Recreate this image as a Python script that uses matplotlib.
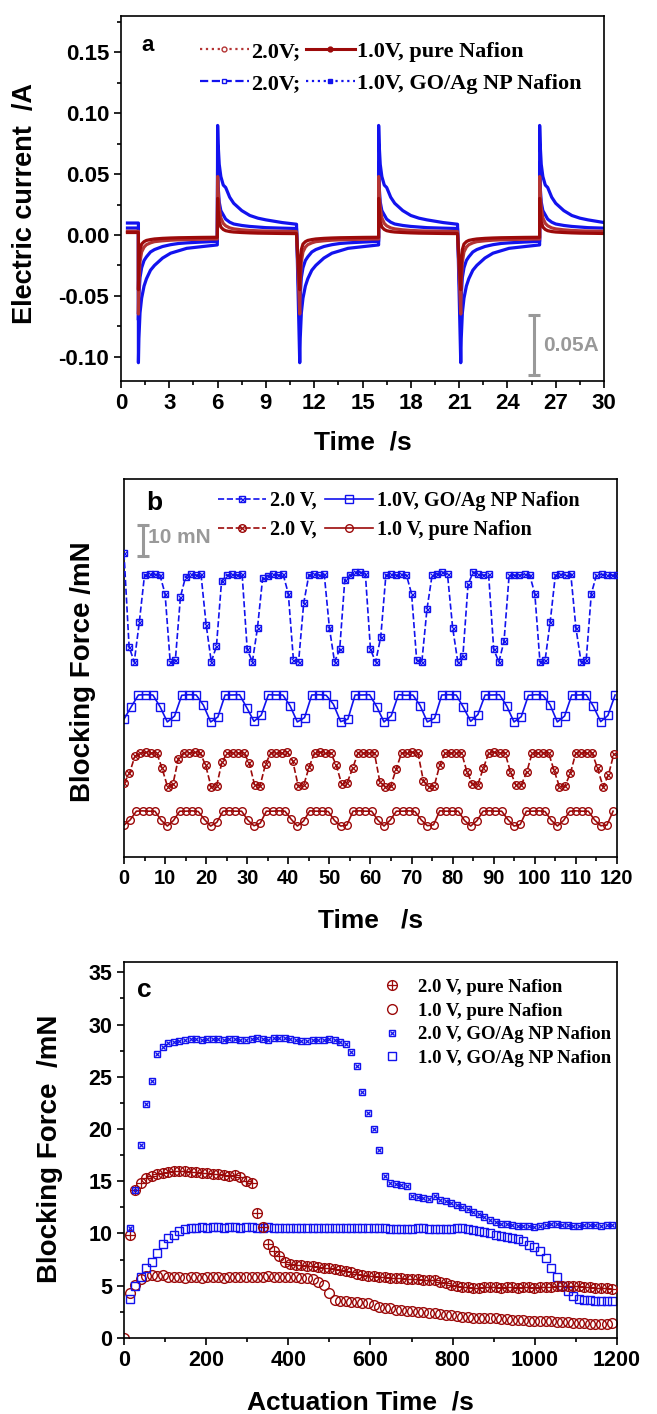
import numpy as np
import matplotlib
matplotlib.use("Agg")
import matplotlib.pyplot as plt
from matplotlib.lines import Line2D
from matplotlib.ticker import MultipleLocator, FormatStrFormatter

plt.rcParams["font.family"] = ["Liberation Sans", "DejaVu Sans"]
plt.rcParams["font.weight"] = "bold"
plt.rcParams["axes.labelweight"] = "bold"
plt.rcParams["axes.unicode_minus"] = False

RED = "#9C0A0A"
RED_LIGHT = "#B43434"
BLUE = "#1212EE"
GRAY = "#999999"
SERIF = "Liberation Serif"

# ---------------- panel a: current response (A) ----------------
# switching instants (s) and sampling offsets after each switch (s)
A_START = 0.4
A_SWITCH_NEG = [1.08, 11.1, 21.1]
A_SWITCH_POS = [6.0, 16.0, 26.0]
A_OFFSETS = [0, 0.03, 0.1, 0.2, 0.35, 0.5, 0.75, 1.0, 1.5, 2.0, 2.5, 3.0, 4.0, 4.9]

# current before the first switch
A_PRE = {"red2": 0.003, "red1": 0.002, "blue2": 0.0098, "blue1": 0.0057}
# decay after a negative step
A_NEG = {
    "blue2": [-0.105, -0.085, -0.064, -0.052, -0.042, -0.036, -0.029, -0.025,
              -0.019, -0.015, -0.013, -0.011, -0.0095, -0.0082],
    "blue1": [-0.070, -0.050, -0.035, -0.027, -0.021, -0.018, -0.014, -0.012,
              -0.0095, -0.008, -0.007, -0.0065, -0.0058, -0.0052],
    "red2": [-0.065, -0.040, -0.022, -0.014, -0.010, -0.008, -0.0065, -0.0055,
             -0.0048, -0.0043, -0.004, -0.0038, -0.0035, -0.0033],
    "red1": [-0.045, -0.025, -0.012, -0.0075, -0.0055, -0.0045, -0.0038, -0.0033,
             -0.0028, -0.0025, -0.0023, -0.0022, -0.002, -0.0019],
}
# decay after a positive step
A_POS = {
    "blue2": [0.090, 0.075, 0.058, 0.048, 0.041, 0.039, 0.031, 0.026,
              0.020, 0.016, 0.0138, 0.0124, 0.0102, 0.0088],
    "blue1": [0.060, 0.040, 0.027, 0.020, 0.0165, 0.013, 0.0105, 0.009,
              0.0078, 0.007, 0.0065, 0.006, 0.0056, 0.0053],
    "red2": [0.048, 0.035, 0.022, 0.014, 0.0095, 0.0075, 0.0058, 0.005,
             0.0042, 0.0037, 0.0034, 0.0032, 0.003, 0.0028],
    "red1": [0.030, 0.020, 0.011, 0.0065, 0.0045, 0.0035, 0.0028, 0.0024,
             0.002, 0.0017, 0.0015, 0.0014, 0.0012, 0.0011],
}

# ---------------- panel b: blocking force traces (mN, offset) ----------------
B_RED1_DT = 1.507
B_RED1 = [10.3, 12.0,
          14.8, 14.9, 14.8, 14.8, 11.9, 10.0, 11.8,
          14.8, 14.8, 14.9, 14.7, 12.1, 10.0, 11.2,
          14.8, 14.9, 14.8, 14.8, 11.9, 10.1, 10.9,
          14.8, 14.8, 14.9, 14.8, 12.2, 10.0, 11.6,
          14.9, 14.8, 14.8, 14.7, 11.8, 10.0, 10.3,
          14.8, 14.9, 14.8, 14.8, 11.9, 10.0, 11.9,
          14.8, 14.8, 14.9, 14.7, 12.0, 10.1, 10.4,
          14.9, 14.8, 14.8, 14.8, 11.8, 10.0, 11.7,
          14.8, 14.9, 14.8, 14.8, 12.1, 10.0, 10.5,
          14.8, 14.8, 14.9, 14.7, 11.9, 10.0, 11.8,
          14.8, 14.9, 14.8, 14.8, 12.0, 10.1, 10.3,
          14.8]

B_RED2_DT = 1.325
B_RED2 = [23.9, 27.0, 32.5,
          33.6, 33.8, 33.6, 33.7, 28.6, 22.7, 23.6, 31.8,
          33.7, 33.6, 33.8, 33.6, 29.6, 22.7, 22.8, 30.7,
          33.6, 33.7, 33.6, 33.6, 30.4, 23.2, 23.0, 30.0,
          33.7, 33.6, 33.6, 33.8, 31.0, 23.0, 23.1, 29.0,
          33.6, 33.8, 33.6, 33.6, 29.6, 23.5, 24.0, 28.6,
          33.7, 33.6, 33.7, 33.6, 24.3, 22.7, 22.9, 28.4,
          33.6, 33.6, 33.8, 33.6, 24.6, 22.7, 23.0, 29.6,
          33.7, 33.6, 33.6, 33.7, 27.5, 23.6, 23.4, 28.6,
          33.6, 33.8, 33.6, 33.6, 27.5, 23.2, 23.3, 27.5,
          33.7, 33.6, 33.7, 33.6, 28.0, 22.7, 22.9, 27.0,
          33.6, 33.7, 33.6, 33.6, 28.6, 22.7, 26.5, 33.4]

B_BLUE1_DT = 1.758
B_BLUE1 = [44.5, 48.5,
           52.3, 52.4, 52.3, 48.5, 43.6, 45.5,
           52.2, 52.4, 52.3, 49.0, 43.6, 45.2,
           52.3, 52.3, 52.4, 48.2, 43.8, 45.8,
           52.4, 52.3, 52.3, 48.8, 43.6, 45.0,
           52.3, 52.4, 52.2, 49.3, 43.7, 44.5,
           52.3, 52.3, 52.4, 48.5, 43.6, 45.6,
           52.4, 52.2, 52.3, 48.9, 43.6, 44.8,
           52.3, 52.4, 52.3, 48.3, 43.8, 46.0,
           52.3, 52.3, 52.4, 48.7, 43.6, 45.3,
           52.2, 52.4, 52.3, 49.1, 43.6, 45.5,
           52.3, 52.3, 52.4, 48.6, 43.7, 45.7,
           52.3]

B_BLUE2_DT = 1.25
B_BLUE2 = [98.0, 67.8, 63.0, 76.0,
           91.0, 91.5, 91.2, 91.0, 85.0, 63.0, 63.5, 84.0,
           90.5, 91.5, 91.0, 91.2, 75.0, 63.0, 68.0, 89.0,
           91.0, 91.2, 91.0, 91.4, 67.0, 63.0, 74.0, 90.0,
           90.8, 91.5, 91.0, 91.2, 85.0, 63.5, 63.0, 82.0,
           91.0, 91.5, 91.0, 91.2, 74.0, 63.0, 67.0, 89.5,
           91.0, 92.0, 92.0, 91.5, 67.0, 63.0, 71.0, 91.0,
           91.5, 91.0, 91.2, 91.0, 85.0, 63.5, 63.0, 80.0,
           91.0, 91.5, 92.0, 91.2, 74.0, 63.0, 65.0, 88.0,
           92.0, 91.5, 91.0, 91.2, 67.0, 63.0, 69.6, 91.0,
           91.0, 91.0, 91.2, 91.0, 85.0, 63.0, 63.5, 76.0,
           91.0, 91.2, 91.0, 91.4, 74.0, 63.0, 63.5, 85.0,
           91.0, 91.2, 91.0, 91.0, 91.0]

# ---------------- panel c: long-term blocking force (mN) ----------------
C_DT = 13.5
nan = np.nan
C_RED2 = [nan,
          9.9, 14.2, 14.8, 15.3, 15.5, 15.7, 15.8, 15.9, 16.0, 16.0,
          16.0, 15.9, 15.9, 15.8, 15.8, 15.7, 15.7, 15.6, 15.5, 15.6,
          15.4, 15.0, 14.8, 12.0, 10.6, 9.0, 8.3, 7.8, 7.3, 7.1,
          7.0, 7.0, 6.9, 6.9, 6.8, 6.7, 6.7, 6.6, 6.5, 6.4,
          6.3, 6.1, 6.0, 5.9, 5.9, 5.8, 5.8, 5.7, 5.7, 5.7,
          5.6, 5.6, 5.6, 5.5, 5.5, 5.5, 5.4, 5.3, 5.1, 5.0,
          4.9, 4.9, 4.8, 4.8, 4.9, 4.9, 4.9, 4.8, 4.9, 4.9,
          4.8, 4.9, 4.9, 4.8, 4.9, 4.9, 4.9, 5.0, 5.0, 5.0,
          5.0, 5.0, 4.9, 4.9, 4.8, 4.8, 4.8, 4.7]
C_RED1 = [0.0,
          4.3, 5.1, 5.6, 5.9, 6.0, 5.9, 6.0, 5.8, 5.8, 5.8,
          5.7, 5.8, 5.8, 5.7, 5.8, 5.8, 5.8, 5.7, 5.8, 5.8,
          5.8, 5.8, 5.8, 5.8, 5.8, 5.9, 5.8, 5.8, 5.8, 5.8,
          5.8, 5.7, 5.7, 5.6, 5.4, 5.1, 4.3, 3.6, 3.5, 3.5,
          3.4, 3.4, 3.3, 3.3, 3.2, 3.0, 2.9, 2.9, 2.7, 2.7,
          2.6, 2.6, 2.5, 2.5, 2.4, 2.4, 2.3, 2.2, 2.2, 2.1,
          2.0, 2.0, 1.9, 1.9, 1.9, 1.9, 1.9, 1.8, 1.8, 1.7,
          1.7, 1.7, 1.6, 1.6, 1.6, 1.6, 1.6, 1.5, 1.5, 1.5,
          1.4, 1.4, 1.4, 1.3, 1.3, 1.3, 1.3, 1.4]
C_BLUE2 = [nan,
           10.5, 14.2, 18.5, 22.4, 24.6, 27.2, 27.9, 28.2, 28.3, 28.4,
           28.5, 28.6, 28.6, 28.5, 28.6, 28.6, 28.6, 28.5, 28.6, 28.6,
           28.5, 28.5, 28.6, 28.7, 28.6, 28.5, 28.7, 28.7, 28.7, 28.6,
           28.5, 28.4, 28.4, 28.5, 28.5, 28.5, 28.6, 28.5, 28.3, 28.1,
           27.4, 26.0, 23.5, 21.5, 20.0, 18.0, 15.5, 14.8, 14.7, 14.6,
           14.5, 13.6, 13.5, 13.4, 13.3, 13.6, 13.2, 13.1, 12.9, 12.7,
           12.5, 12.3, 12.1, 11.9, 11.6, 11.3, 11.1, 10.9, 10.9, 10.8,
           10.7, 10.7, 10.7, 10.6, 10.7, 10.8, 10.9, 10.9, 10.8, 10.8,
           10.7, 10.7, 10.8, 10.8, 10.8, 10.7, 10.8, 10.8]
C_BLUE1 = [nan,
           3.7, 5.0, 5.8, 6.7, 7.3, 8.1, 9.0, 9.6, 9.9, 10.2,
           10.4, 10.5, 10.5, 10.6, 10.5, 10.6, 10.6, 10.5, 10.6, 10.6,
           10.5, 10.6, 10.6, 10.5, 10.5, 10.6, 10.5, 10.5, 10.5, 10.5,
           10.5, 10.5, 10.5, 10.5, 10.5, 10.5, 10.5, 10.5, 10.5, 10.5,
           10.5, 10.5, 10.5, 10.5, 10.5, 10.5, 10.5, 10.4, 10.4, 10.4,
           10.4, 10.4, 10.5, 10.5, 10.4, 10.4, 10.4, 10.4, 10.4, 10.5,
           10.5, 10.4, 10.3, 10.2, 10.1, 10.0, 9.9, 9.8, 9.7, 9.6,
           9.5, 9.3, 8.9, 8.7, 8.3, 7.7, 6.7, 5.8, 5.0, 4.5,
           4.0, 3.7, 3.6, 3.6, 3.5, 3.5, 3.5, 3.5]


def build_transient(key):
    t = [A_START, A_SWITCH_NEG[0]]
    v = [A_PRE[key], A_PRE[key]]
    for tn, tp in zip(A_SWITCH_NEG, A_SWITCH_POS):
        t += [tn + o for o in A_OFFSETS]
        v += A_NEG[key]
        t += [tp + o for o in A_OFFSETS]
        v += A_POS[key]
    return t, v


def sampled(values, dt):
    return np.arange(len(values)) * dt, np.asarray(values)


def pair(ax, x, y, color, base, cross, ms, cross_ms, ls="none", lw=1.2, zorder=3):
    h1, = ax.plot(x, y, ls=ls, lw=lw, color=color, marker=base, ms=ms,
                  mfc="none", mec=color, mew=1.0, zorder=zorder)
    h2, = ax.plot(x, y, ls="none", marker=cross, ms=cross_ms, mec=color,
                  mew=0.9, zorder=zorder)
    return (h1, h2)


def style_axes(ax, tick_size):
    for sp in ax.spines.values():
        sp.set_linewidth(1.2)
    ax.tick_params(which="both", direction="out", top=False, right=False,
                   width=1.2, labelsize=tick_size)
    ax.tick_params(which="major", length=5)
    ax.tick_params(which="minor", length=3)


fig = plt.figure(figsize=(6.57, 14.14), dpi=100)

# ---- a ----
ax = fig.add_axes([0.1842, 0.7306, 0.7352, 0.2581])
for key, color in [("blue2", BLUE), ("blue1", BLUE), ("red2", RED_LIGHT), ("red1", RED)]:
    t, v = build_transient(key)
    ax.plot(t, v, color=color, lw=2.3, solid_joinstyle="round")
ax.set_xlim(0, 30)
ax.set_ylim(-0.12, 0.18)
ax.xaxis.set_major_locator(MultipleLocator(3))
ax.xaxis.set_minor_locator(MultipleLocator(1.5))
ax.yaxis.set_major_locator(MultipleLocator(0.05))
ax.yaxis.set_minor_locator(MultipleLocator(0.025))
ax.yaxis.set_major_formatter(FormatStrFormatter("%.2f"))
style_axes(ax, 16)
ax.set_xlabel("Time  /s", fontsize=19)
ax.set_ylabel("Electric current  /A", fontsize=19.5)
ax.xaxis.set_label_coords(0.5, -0.17)
ax.xaxis.label.set_va("center")
ax.yaxis.set_label_coords(-0.199, 0.485)
ax.yaxis.label.set_va("center")
ax.text(0.043, 0.92, "a", transform=ax.transAxes, fontsize=16, va="center")
ax.errorbar([25.67], [-0.0905], yerr=[0.025], color=GRAY, lw=2.2, capsize=4,
            capthick=2.2)
ax.text(26.2, -0.0905, "0.05A", color=GRAY, fontsize=15, va="center")
ha = [
    Line2D([], [], color=RED_LIGHT, ls=":", lw=1.6, marker="o", ms=3.5, mfc="white", mec=RED_LIGHT),
    Line2D([], [], color=BLUE, ls="--", lw=1.6, marker="s", ms=3.5, mfc="white", mec=BLUE),
    Line2D([], [], color=RED, ls="-", lw=2.2, marker="o", ms=3.5),
    Line2D([], [], color=BLUE, ls=":", lw=1.6, marker="s", ms=3.5),
]
ax.legend(ha, ["2.0V;", "2.0V;", "1.0V, pure Nafion", "1.0V, GO/Ag NP Nafion"],
          ncol=2, loc="upper left", bbox_to_anchor=(0.14, 0.96), frameon=False,
          borderpad=0, handlelength=2.2, handletextpad=0.1, columnspacing=0.25,
          labelspacing=0.5, prop={"family": SERIF, "weight": "bold", "size": 16})

# ---- b ----
ax = fig.add_axes([0.1887, 0.3939, 0.7504, 0.2673])
x, y = sampled(B_BLUE2, B_BLUE2_DT)
hb2 = pair(ax, x, y, BLUE, "s", "x", 5, 3.6, ls="--")
x, y = sampled(B_BLUE1, B_BLUE1_DT)
hb1, = ax.plot(x, y, ls="-", lw=1.2, color=BLUE, marker="s", ms=6, mfc="none", mec=BLUE, mew=1.0)
x, y = sampled(B_RED2, B_RED2_DT)
hr2 = pair(ax, x, y, RED, "o", "x", 5.5, 3.8, ls="--")
x, y = sampled(B_RED1, B_RED1_DT)
hr1, = ax.plot(x, y, ls="-", lw=1.2, color=RED, marker="o", ms=5.5, mfc="none", mec=RED, mew=1.0)
ax.set_xlim(0, 120)
ax.set_ylim(0, 122)
ax.set_yticks([])
ax.xaxis.set_major_locator(MultipleLocator(10))
ax.xaxis.set_minor_locator(MultipleLocator(5))
style_axes(ax, 14.5)
ax.set_xlabel("Time   /s", fontsize=19)
ax.set_ylabel("Blocking Force /mN", fontsize=20)
ax.xaxis.set_label_coords(0.5, -0.167)
ax.xaxis.label.set_va("center")
ax.yaxis.set_label_coords(-0.083, 0.49)
ax.yaxis.label.set_va("center")
ax.text(0.045, 0.936, "b", transform=ax.transAxes, fontsize=19, va="center")
ax.errorbar([4.7], [102.1], yerr=[5.0], color=GRAY, lw=2.2, capsize=4, capthick=2.2)
ax.text(5.8, 103.0, "10 mN", color=GRAY, fontsize=15, va="center")
ax.legend([hb2, hr2, hb1, hr1],
          ["2.0 V,", "2.0 V,", "1.0V, GO/Ag NP Nafion", "1.0 V, pure Nafion"],
          ncol=2, loc="upper left", bbox_to_anchor=(0.17, 0.995), frameon=False,
          borderpad=0, handlelength=2.4, handletextpad=0.2, columnspacing=0.4,
          labelspacing=0.45, prop={"family": SERIF, "weight": "bold", "size": 14.5})

# ---- c ----
ax = fig.add_axes([0.1887, 0.0538, 0.7504, 0.2659])
x, y = sampled(C_RED2, C_DT)
hc_r2 = pair(ax, x, y, RED, "o", "+", 7, 7)
x, y = sampled(C_RED1, C_DT)
hc_r1, = ax.plot(x, y, ls="none", color=RED, marker="o", ms=7, mfc="none", mec=RED, mew=1.0)
x, y = sampled(C_BLUE2, C_DT)
hc_b2 = pair(ax, x, y, BLUE, "s", "x", 4.2, 3.0)
x, y = sampled(C_BLUE1, C_DT)
hc_b1, = ax.plot(x, y, ls="none", color=BLUE, marker="s", ms=6, mfc="none", mec=BLUE, mew=1.0)
ax.set_xlim(0, 1200)
ax.set_ylim(0, 36)
ax.xaxis.set_major_locator(MultipleLocator(200))
ax.xaxis.set_minor_locator(MultipleLocator(100))
ax.yaxis.set_major_locator(MultipleLocator(5))
ax.yaxis.set_minor_locator(MultipleLocator(2.5))
style_axes(ax, 15.5)
ax.set_xlabel("Actuation Time  /s", fontsize=19)
ax.set_ylabel("Blocking Force  /mN", fontsize=20)
ax.xaxis.set_label_coords(0.479, -0.173)
ax.xaxis.label.set_va("center")
ax.yaxis.set_label_coords(-0.15, 0.503)
ax.yaxis.label.set_va("center")
ax.text(0.026, 0.926, "c", transform=ax.transAxes, fontsize=19, va="center")
ax.legend([hc_r2, hc_r1, hc_b2, hc_b1],
          ["2.0 V, pure Nafion", "1.0 V, pure Nafion",
           "2.0 V, GO/Ag NP Nafion", "1.0 V, GO/Ag NP Nafion"],
          loc="upper left", bbox_to_anchor=(0.505, 0.98), frameon=False,
          borderpad=0, handlelength=1.0, handletextpad=0.9,
          labelspacing=0.35, prop={"family": SERIF, "weight": "bold", "size": 13.5})

fig.savefig("out.png", dpi=100)
